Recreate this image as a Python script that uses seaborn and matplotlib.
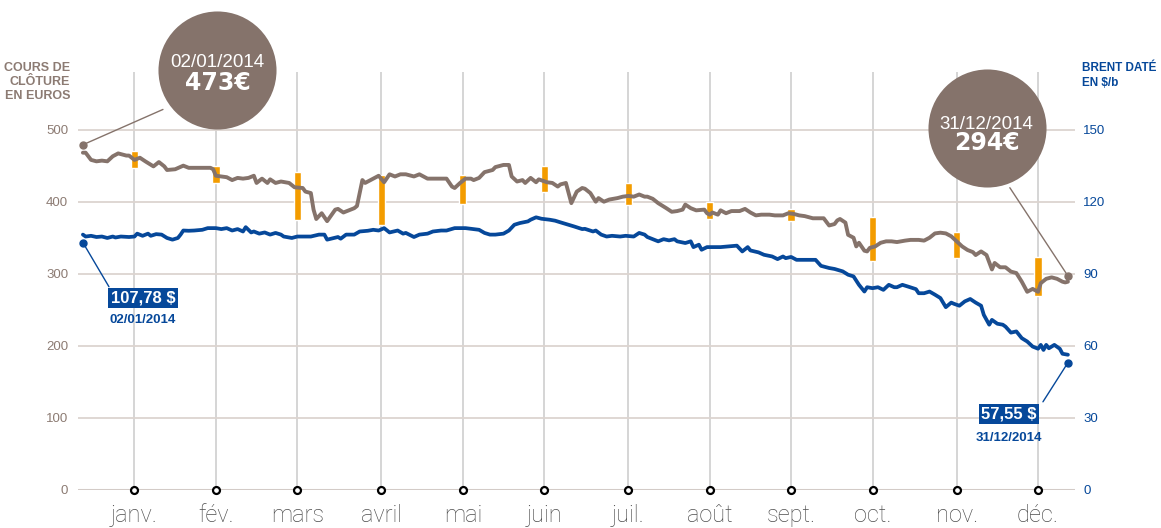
import matplotlib
matplotlib.use("Agg")
import matplotlib.pyplot as plt
import seaborn as sns
import pandas as pd

# Cours de clôture (EUR) - jour de l'année / valeur
price_days = [2, 3, 5, 7, 9, 11, 13, 15, 18, 19,
              21, 23, 25, 28, 30, 32, 33, 36, 39, 41,
              44, 46, 49, 50, 51, 53, 55, 57, 59, 61,
              63, 65, 66, 68, 70, 71, 73, 75, 78, 80,
              83, 84, 86, 87, 88, 90, 92, 95, 96, 98,
              100, 102, 103, 105, 106, 109, 111, 113, 115, 117,
              119, 121, 124, 126, 129, 131, 134, 136, 138, 139,
              141, 143, 145, 146, 148, 150, 153, 154, 157, 159,
              160, 162, 164, 165, 167, 169, 170, 173, 175, 177,
              178, 180, 182, 184, 186, 187, 189, 191, 192, 194,
              196, 199, 201, 203, 205, 207, 209, 210, 212, 214,
              217, 219, 221, 223, 224, 226, 228, 231, 232, 233,
              234, 236, 237, 239, 241, 244, 246, 248, 250, 252,
              255, 257, 260, 262, 264, 266, 268, 271, 273, 275,
              277, 279, 280, 281, 283, 284, 286, 287, 288, 290,
              291, 292, 294, 296, 298, 300, 302, 305, 307, 310,
              312, 314, 316, 318, 320, 322, 324, 326, 328, 330,
              331, 333, 335, 337, 338, 340, 342, 344, 346, 348,
              350, 352, 354, 355, 357, 359, 361, 363, 364, 365]
price_eur = [468, 468, 458, 456, 457, 456, 463, 467, 464, 464,
             458, 461, 456, 449, 455, 449, 444, 445, 450, 447,
             447, 447, 447, 445, 436, 435, 434, 430, 433, 432,
             433, 436, 426, 432, 426, 431, 426, 428, 426, 420,
             419, 414, 412, 389, 376, 384, 373, 389, 390, 385,
             388, 391, 394, 430, 426, 432, 436, 427, 438, 435,
             438, 438, 435, 438, 432, 432, 432, 432, 421, 419,
             426, 432, 432, 430, 433, 441, 444, 448, 451, 451,
             435, 428, 430, 426, 433, 427, 431, 427, 426, 421,
             424, 426, 398, 414, 419, 418, 412, 400, 405, 400,
             403, 405, 407, 408, 407, 410, 407, 407, 404, 398,
             391, 386, 387, 389, 396, 391, 388, 389, 384, 382,
             385, 382, 388, 384, 387, 387, 390, 385, 381, 382,
             382, 381, 381, 384, 383, 381, 380, 377, 377, 377,
             367, 369, 374, 376, 371, 354, 350, 338, 343, 332,
             331, 336, 338, 343, 345, 345, 344, 346, 347, 347,
             346, 350, 356, 357, 356, 352, 345, 338, 333, 330,
             326, 331, 326, 306, 315, 309, 309, 303, 301, 289,
             275, 279, 275, 287, 293, 295, 293, 289, 288, 289]

# Brent daté ($/b)
brent_days = [2, 3, 5, 7, 9, 11, 13, 14, 16, 19,
              21, 22, 24, 26, 27, 29, 31, 33, 35, 37,
              38, 39, 41, 43, 46, 48, 51, 53, 55, 57,
              59, 61, 62, 64, 65, 67, 69, 71, 73, 75,
              76, 79, 81, 84, 86, 89, 91, 92, 96, 97,
              99, 102, 104, 107, 109, 111, 113, 115, 118, 120,
              121, 124, 126, 129, 131, 134, 136, 139, 141, 143,
              146, 148, 150, 152, 154, 157, 159, 161, 163, 166,
              167, 169, 171, 174, 176, 178, 181, 183, 186, 187,
              190, 191, 193, 195, 197, 200, 202, 205, 207, 209,
              210, 212, 214, 216, 218, 220, 221, 224, 226, 227,
              229, 230, 232, 235, 237, 240, 243, 245, 247, 248,
              251, 253, 256, 258, 260, 261, 263, 265, 267, 270,
              272, 274, 277, 279, 282, 284, 286, 288, 290, 291,
              293, 295, 297, 299, 301, 302, 304, 306, 309, 310,
              312, 314, 316, 318, 320, 322, 323, 325, 327, 329,
              331, 333, 334, 336, 337, 339, 341, 342, 344, 346,
              348, 350, 352, 354, 355, 356, 357, 358, 360, 362,
              363, 365]
brent_usd = [106.3, 105.5, 105.8, 105.3, 105.5, 104.9, 105.5, 105.1, 105.5, 105.3,
             105.5, 106.7, 105.8, 106.7, 105.8, 106.5, 106.3, 104.9, 104.2, 104.9,
             106.3, 108.0, 107.9, 108.0, 108.3, 109.0, 109.0, 108.6, 109.0, 108.0,
             108.6, 107.6, 109.4, 107.2, 107.6, 106.7, 107.2, 106.3, 107.0, 106.3,
             105.5, 104.9, 105.5, 105.5, 105.5, 106.3, 106.3, 104.2, 105.3, 104.6,
             106.3, 106.3, 107.6, 107.9, 108.3, 108.0, 109.0, 107.2, 108.0, 106.7,
             107.0, 105.3, 106.3, 106.7, 107.6, 108.0, 108.0, 109.0, 109.0, 109.0,
             108.6, 108.3, 107.0, 106.3, 106.3, 106.7, 108.0, 110.4, 111.1, 111.8,
             112.5, 113.5, 112.9, 112.5, 112.1, 111.4, 110.4, 109.7, 108.6, 108.7,
             107.6, 108.0, 106.3, 105.5, 105.8, 105.5, 105.8, 105.5, 107.0, 106.3,
             105.3, 104.4, 103.5, 104.4, 103.9, 104.4, 103.5, 102.8, 103.5, 101.1,
             102.1, 100.0, 101.1, 101.1, 101.1, 101.4, 101.7, 99.3, 101.1, 99.7,
             98.9, 97.9, 97.2, 96.1, 97.2, 96.5, 97.0, 95.8, 95.8, 95.8,
             95.8, 93.3, 92.4, 92.0, 91.0, 89.6, 88.9, 85.4, 82.6, 84.4,
             84.0, 84.4, 83.3, 85.4, 84.4, 84.4, 85.4, 84.7, 83.6, 81.9,
             81.9, 82.6, 81.3, 79.9, 76.1, 78.0, 77.5, 76.7, 78.5, 79.5,
             78.0, 76.7, 72.9, 68.8, 70.8, 69.2, 68.8, 68.0, 65.5, 66.0,
             63.2, 61.8, 59.7, 58.8, 60.4, 58.3, 60.4, 59.0, 60.4, 58.8,
             56.7, 56.3]

# repères mensuels + plus haut / plus bas du mois (barres orange)
months = ["janv.", "fév.", "mars", "avril", "mai", "juin",
          "juil.", "août", "sept.", "oct.", "nov.", "déc."]
month_days = [21, 51, 81, 112, 142, 172, 203, 233, 263, 293, 324, 354]
bar_low = [447, 426, 375, 368, 397, 413, 396, 376, 373, 318, 322, 269]
bar_high = [470, 450, 441, 437, 437, 450, 426, 400, 390, 379, 358, 323]

assert len(price_days) == len(price_eur)
assert len(brent_days) == len(brent_usd)

BROWN = "#85736b"
BLUE = "#06489a"
ORANGE = "#f39c00"

sns.set_style("white")
plt.rcParams["font.family"] = ["Liberation Sans", "DejaVu Sans"]

price = pd.DataFrame({"jour": price_days, "cours": price_eur})
brent = pd.DataFrame({"jour": brent_days, "brent": brent_usd})

fig = plt.figure(figsize=(11.61, 5.28), dpi=100)
ax = fig.add_axes([0.0672, 0.072, 0.8587, 0.7917])
ax2 = ax.twinx()

# barres orange puis courbes
ax.bar(month_days, [h - l for h, l in zip(bar_high, bar_low)], bottom=bar_low,
       width=2.7, color=ORANGE, zorder=2)
sns.lineplot(data=price, x="jour", y="cours", ax=ax, color=BROWN, lw=2.8, zorder=3)
sns.lineplot(data=brent, x="jour", y="brent", ax=ax2, color=BLUE, lw=2.7)

ax.set_xlim(0.2, 367.6)
ax.set_ylim(0, 580)
ax2.set_ylim(0, 174)
ax.set_yticks(range(0, 501, 100))
ax2.set_yticks(range(0, 151, 30))
ax.set_xticks(month_days)
ax.set_xticklabels(months, fontsize=17, color="#4d4d4d",
                   fontfamily=["Roboto", "DejaVu Sans"], fontweight="light")
ax.set_xlabel("")
ax.set_ylabel("")
ax2.set_ylabel("")

ax.grid(axis="x", color="#d2d2d2", lw=1.3)
ax.grid(axis="y", color="#dcd4d0", lw=1.3)
ax2.grid(False)
ax.set_axisbelow(True)
ax.axhline(0, color="#d3cbc7", lw=2.2, zorder=1)
for a in (ax, ax2):
    for s in a.spines.values():
        s.set_visible(False)

ax.tick_params(axis="y", length=0, pad=7, labelsize=9.5, labelcolor="#8c7b73")
ax2.tick_params(axis="y", length=0, pad=6, labelsize=9.5, labelcolor=BLUE)
ax.tick_params(axis="x", length=0, pad=10)

# petits ronds sur l'axe des mois
ax.plot(month_days, [0] * len(month_days), "o", ms=5, mfc="white", mec="black",
        mew=1.6, clip_on=False, zorder=6)

# titres des axes
fig.text(0.0603, 0.8447, "COURS DE\nCLÔTURE\nEN EUROS", ha="right", va="center",
         fontsize=9, fontweight="bold", color="#8c7b73", linespacing=1.25)
fig.text(0.932, 0.857, "BRENT DATÉ\nEN $/b", ha="left", va="center",
         fontsize=8.5, fontweight="bold", color=BLUE, parse_math=False,
         linespacing=1.25)

# bulles de début / fin d'année (cours en euros)
ax.scatter([51.6, 335.1], [583, 502.8], s=7225, color=BROWN, clip_on=False,
           zorder=5, linewidths=0)
ax.plot([2, 31.5], [479, 528], color=BROWN, lw=1, clip_on=False, zorder=4)
ax.plot([365, 343.6], [297, 419.4], color=BROWN, lw=1, clip_on=False, zorder=4)
ax.plot([2, 365], [479, 297], "o", ms=5, color=BROWN, ls="none",
        clip_on=False, zorder=4)
ax.text(51.6, 593.5, "02/01/2014", color="white", fontsize=13.5,
        ha="center", va="center", zorder=7)
ax.text(51.6, 565, "473€", color="white", fontsize=17, fontweight="bold",
        family="DejaVu Sans", ha="center", va="center", zorder=7)
ax.text(335.1, 507, "31/12/2014", color="white", fontsize=13.5,
        ha="center", va="center", zorder=7)
ax.text(335.1, 481.5, "294€", color="white", fontsize=17, fontweight="bold",
        family="DejaVu Sans", ha="center", va="center", zorder=7)

# étiquettes Brent
ax2.plot([2, 11.6], [103, 84.6], color=BLUE, lw=1, clip_on=False)
ax2.plot([365, 355.8], [53, 36.7], color=BLUE, lw=1, clip_on=False)
ax2.plot([2, 365], [103, 53], "o", ms=5, color=BLUE, ls="none", clip_on=False)
box = dict(boxstyle="square,pad=0.15", fc=BLUE, ec="none")
ax2.text(24.1, 79.8, "107,78 $", color="white", fontsize=12, fontweight="bold",
         ha="center", va="center", bbox=box, parse_math=False)
ax2.text(24.1, 70.8, "02/01/2014", color=BLUE, fontsize=9.5, fontweight="bold",
         ha="center", va="center")
ax2.text(343.2, 31.5, "57,55 $", color="white", fontsize=12, fontweight="bold",
         ha="center", va="center", bbox=box, parse_math=False)
ax2.text(343.2, 21.8, "31/12/2014", color=BLUE, fontsize=9.5, fontweight="bold",
         ha="center", va="center")

fig.savefig("out.png", dpi=100)
